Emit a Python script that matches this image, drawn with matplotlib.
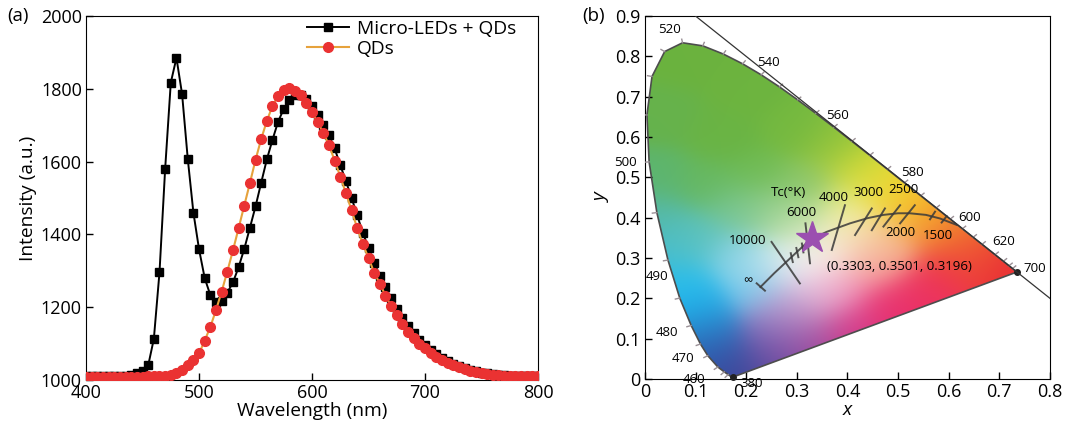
import matplotlib
matplotlib.use("Agg")
import matplotlib.pyplot as plt
import matplotlib.colors as mcolors
import numpy as np
from matplotlib.patches import Polygon

plt.rcParams['font.family'] = ['Open Sans', 'DejaVu Sans']
plt.rcParams['font.size'] = 13

# ---- (a) emission spectra, 5 nm steps from 400 to 800 nm
wavelength = np.arange(400, 805, 5)
micro_led_qd = [1010, 1010, 1010, 1010, 1010, 1011, 1011, 1012, 1014, 1018,
                1026, 1040, 1113, 1296, 1580, 1817, 1885, 1785, 1608, 1460,
                1359, 1280, 1233, 1213, 1218, 1240, 1268, 1310, 1360, 1418,
                1477, 1542, 1606, 1660, 1710, 1745, 1770, 1783, 1782, 1772,
                1752, 1728, 1700, 1672, 1636, 1590, 1546, 1500, 1452, 1404,
                1362, 1322, 1286, 1255, 1224, 1196, 1171, 1149, 1128, 1111,
                1096, 1083, 1071, 1060, 1051, 1044, 1038, 1033, 1028, 1024,
                1020, 1018, 1016, 1014, 1013, 1012, 1012, 1011, 1011, 1011,
                1010]
qd_only = [1009, 1009, 1009, 1009, 1009, 1009, 1009, 1009, 1009, 1009,
           1009, 1010, 1010, 1011, 1012, 1015, 1019, 1027, 1040, 1055,
           1073, 1108, 1146, 1192, 1243, 1298, 1356, 1417, 1479, 1541,
           1605, 1662, 1712, 1753, 1781, 1798, 1803, 1795, 1783, 1760,
           1735, 1708, 1679, 1645, 1603, 1559, 1513, 1466, 1417, 1373,
           1335, 1295, 1265, 1232, 1203, 1178, 1155, 1133, 1115, 1100,
           1087, 1075, 1062, 1054, 1046, 1040, 1035, 1030, 1025, 1021,
           1018, 1016, 1014, 1013, 1012, 1012, 1011, 1011, 1011, 1010,
           1010]

# ---- (b) CIE 1931 chromaticity diagram
locus_wl = [380, 390, 400, 410, 420, 430, 440, 450, 460, 470, 475, 480, 485,
            490, 495, 500, 505, 510, 515, 520, 525, 530, 535, 540, 545, 550,
            555, 560, 565, 570, 575, 580, 585, 590, 595, 600, 605, 610, 620,
            630, 640, 650, 660, 680, 700]
locus_x = [0.1741, 0.1738, 0.1733, 0.1726, 0.1714, 0.1689, 0.1644, 0.1566,
           0.1440, 0.1241, 0.1096, 0.0913, 0.0687, 0.0454, 0.0235, 0.0082,
           0.0039, 0.0139, 0.0389, 0.0743, 0.1142, 0.1547, 0.1929, 0.2296,
           0.2658, 0.3016, 0.3373, 0.3731, 0.4087, 0.4441, 0.4788, 0.5125,
           0.5448, 0.5752, 0.6029, 0.6270, 0.6482, 0.6658, 0.6915, 0.7079,
           0.7190, 0.7260, 0.7300, 0.7334, 0.7347]
locus_y = [0.0050, 0.0049, 0.0048, 0.0048, 0.0051, 0.0069, 0.0109, 0.0177,
           0.0297, 0.0578, 0.0868, 0.1327, 0.2007, 0.2950, 0.4127, 0.5384,
           0.6548, 0.7502, 0.8120, 0.8338, 0.8262, 0.8059, 0.7816, 0.7543,
           0.7243, 0.6923, 0.6589, 0.6245, 0.5896, 0.5547, 0.5202, 0.4866,
           0.4544, 0.4242, 0.3965, 0.3725, 0.3514, 0.3340, 0.3083, 0.2920,
           0.2809, 0.2740, 0.2700, 0.2666, 0.2653]

wl_labels = ['520', '540', '560', '580', '600', '620', '700',
             '500', '490', '480', '470', '460', '380']
wl_label_x = [0.049, 0.243, 0.380, 0.529, 0.641, 0.708, 0.769,
              -0.038, 0.023, 0.043, 0.075, 0.096, 0.210]
wl_label_y = [0.866, 0.784, 0.653, 0.512, 0.400, 0.341, 0.274,
              0.537, 0.254, 0.116, 0.050, -0.002, -0.012]

planck_x = [0.228, 0.255, 0.278, 0.300, 0.326, 0.359, 0.405, 0.440, 0.471,
            0.500, 0.523, 0.555, 0.583, 0.616]
planck_y = [0.228, 0.262, 0.289, 0.315, 0.345, 0.365, 0.386, 0.399, 0.407,
            0.411, 0.411, 0.407, 0.398, 0.382]

iso_x1 = [0.250, 0.288, 0.299, 0.310, 0.317, 0.395, 0.448, 0.474, 0.504, 0.533, 0.573, 0.596, 0.2206]
iso_y1 = [0.340, 0.312, 0.325, 0.336, 0.386, 0.431, 0.423, 0.423, 0.431, 0.431, 0.415, 0.404, 0.2373]
iso_x2 = [0.306, 0.292, 0.303, 0.313, 0.326, 0.369, 0.415, 0.448, 0.471, 0.504, 0.563, 0.586, 0.2370]
iso_y2 = [0.237, 0.290, 0.302, 0.314, 0.287, 0.320, 0.357, 0.369, 0.378, 0.386, 0.396, 0.388, 0.2190]

tc_labels = ['Tc(°K)', '6000', '4000', '3000', '2500', '10000', '2000', '1500', '∞']
tc_label_x = [0.283, 0.308, 0.373, 0.441, 0.510, 0.203, 0.504, 0.578, 0.203]
tc_label_y = [0.462, 0.414, 0.450, 0.462, 0.470, 0.343, 0.364, 0.356, 0.243]

cie_point = (0.3303, 0.3501)
cie_text = '(0.3303, 0.3501, 0.3196)'

# colours of the printed horseshoe at a few (x, y) spots, blended in between
shade_x = [0.07, 0.20, 0.30, 0.15, 0.03, 0.02, 0.12, 0.22, 0.37, 0.32, 0.42,
           0.46, 0.50, 0.54, 0.58, 0.62, 0.66, 0.72, 0.60, 0.55, 0.48, 0.40,
           0.32, 0.25, 0.18, 0.14, 0.12, 0.10, 0.07, 0.04, 0.02, 0.10, 0.18,
           0.22, 0.25, 0.31, 0.36, 0.33, 0.38, 0.45, 0.42, 0.48, 0.40, 0.30,
           0.25, 0.18, 0.25, 0.30, 0.28]
shade_y = [0.80, 0.72, 0.62, 0.60, 0.65, 0.50, 0.48, 0.50, 0.58, 0.48, 0.52,
           0.48, 0.45, 0.42, 0.38, 0.35, 0.31, 0.27, 0.28, 0.22, 0.18, 0.13,
           0.09, 0.05, 0.01, 0.06, 0.12, 0.18, 0.24, 0.32, 0.40, 0.35, 0.30,
           0.22, 0.28, 0.28, 0.31, 0.21, 0.22, 0.28, 0.35, 0.33, 0.42, 0.38,
           0.42, 0.42, 0.12, 0.15, 0.18]
shade_c = ['#6bb23e', '#6db43f', '#74b940', '#6ab444', '#66b24c', '#5db56e',
           '#66b860', '#6fbb52', '#92c43c', '#8cc66a', '#c8d838', '#e8de38',
           '#f6d12e', '#f5ae2c', '#f3922f', '#f07030', '#ee4d32', '#e92e36',
           '#ee3a45', '#ec3360', '#e8306f', '#d43a8a', '#a0489e', '#6f4fa2',
           '#3d4598', '#2f5aac', '#2a80c8', '#20b0ea', '#2cbfea', '#48bece',
           '#55b9a8', '#5cc2bc', '#88d2e6', '#72c8ec', '#cde9ee', '#f8f4f6',
           '#f8efe4', '#ecc8e0', '#f09ac0', '#f6a0a0', '#f6e4b8', '#f5b888',
           '#eef0a0', '#c8e4b0', '#98d090', '#78c698', '#7a6ab8', '#b07ab8',
           '#c8a8d8']

fig = plt.figure(figsize=(10.65, 4.3), dpi=100)

# ---------------- panel (a)
ax1 = fig.add_axes([0.0808, 0.1163, 0.4244, 0.8465])
ax1.plot(wavelength, micro_led_qd, color='black', lw=1.4, marker='s', ms=5.5,
         label='Micro-LEDs + QDs', zorder=2)
ax1.plot(wavelength, qd_only, color='#e6a23c', lw=1.5, marker='o', ms=7,
         mfc='#ea3232', mec='#ea3232', label='QDs', zorder=3)
ax1.set_xlim(400, 800)
ax1.set_ylim(1000, 2000)
ax1.set_xticks([400, 500, 600, 700, 800])
ax1.set_yticks([1000, 1200, 1400, 1600, 1800, 2000])
ax1.tick_params(direction='in', length=5, width=1, pad=3)
ax1.set_xlabel('Wavelength (nm)', labelpad=0, fontsize=13.8)
ax1.set_ylabel('Intensity (a.u.)', labelpad=3, fontsize=13.8)
ax1.legend(loc='upper left', bbox_to_anchor=(0.489, 0.99), frameon=False,
           handlelength=2.2, handletextpad=0.4, labelspacing=0.1,
           borderpad=0, borderaxespad=0, fontsize=13.8)
fig.text(0.007, 0.963, '(a)', va='center', ha='left', fontsize=13.5)

# ---------------- panel (b)
ax2 = fig.add_axes([0.6056, 0.1186, 0.3803, 0.844])
ax2.set_xlim(0, 0.8)
ax2.set_ylim(0, 0.9)

gx = np.linspace(0.0, 0.8, 260)
gy = np.linspace(0.0, 0.9, 290)
GX, GY = np.meshgrid(gx, gy)
sx = np.array(shade_x)[:, None, None]
sy = np.array(shade_y)[:, None, None]
sc = np.array([mcolors.to_rgb(c) for c in shade_c])
w = np.exp(-((GX - sx) ** 2 + (GY - sy) ** 2) / (2 * 0.045 ** 2)) + 1e-12
fill = np.einsum('kij,kc->ijc', w, sc) / w.sum(axis=0)[..., None]

horseshoe = Polygon(np.column_stack([locus_x, locus_y]), closed=True,
                    facecolor='none', edgecolor='#4d4d4d', lw=1.2, zorder=3)
ax2.add_patch(horseshoe)
im = ax2.imshow(np.clip(fill, 0, 1), origin='lower', extent=(0, 0.8, 0, 0.9),
                aspect='auto', interpolation='bilinear', zorder=1)
im.set_clip_path(horseshoe)

# small ticks on the spectral locus
lx = np.array(locus_x)
ly = np.array(locus_y)
for i in range(6, len(lx) - 3):
    dx = lx[i + 1] - lx[i - 1]
    dy = ly[i + 1] - ly[i - 1]
    n = np.hypot(dx, dy)
    nx, ny = -dy / n, dx / n
    ax2.plot([lx[i], lx[i] + 0.009 * nx], [ly[i], ly[i] + 0.009 * ny],
             color='#9a9096', lw=1, zorder=3)
ax2.plot([locus_x[0], locus_x[-1]], [locus_y[0], locus_y[-1]], 'o',
         color='#222222', ms=4, zorder=4, clip_on=False)

ax2.plot([0.1, 0.8], [0.9, 0.2], color='#333333', lw=0.9, zorder=4)

ax2.plot(planck_x, planck_y, color='#3a3a3a', lw=1.4, alpha=0.85, zorder=4)
for a, b, c, d in zip(iso_x1, iso_y1, iso_x2, iso_y2):
    ax2.plot([a, c], [b, d], color='#3a3a3a', lw=1.4, alpha=0.85, zorder=4)

ax2.plot(*cie_point, marker='*', color='#9b4fb0', ms=24, mec='#9b4fb0',
         zorder=5)

for t, x, y in zip(wl_labels, wl_label_x, wl_label_y):
    ax2.text(x, y, t, ha='center', va='center', fontsize=9.5, clip_on=False,
             zorder=6)
for t, x, y in zip(tc_labels, tc_label_x, tc_label_y):
    ax2.text(x, y, t, ha='center', va='center', fontsize=9.5, zorder=6)
ax2.text(0.502, 0.279, cie_text, ha='center', va='center', fontsize=9.5,
         zorder=6)

ax2.set_xticks(np.arange(0, 0.85, 0.1))
ax2.set_xticklabels(['0', '0.1', '0.2', '0.3', '0.4', '0.5', '0.6', '0.7', '0.8'])
ax2.set_yticks(np.arange(0, 0.95, 0.1))
ax2.set_yticklabels(['0', '0.1', '0.2', '0.3', '0.4', '0.5', '0.6', '0.7', '0.8', '0.9'])
ax2.tick_params(direction='in', length=5, width=1, pad=3)
ax2.set_xlabel('x', style='italic', labelpad=0, fontsize=13.8)
ax2.set_ylabel('y', style='italic', labelpad=3, fontsize=13.8)
fig.text(0.547, 0.963, '(b)', va='center', ha='left', fontsize=13.5)

fig.savefig('out.png', dpi=100)
